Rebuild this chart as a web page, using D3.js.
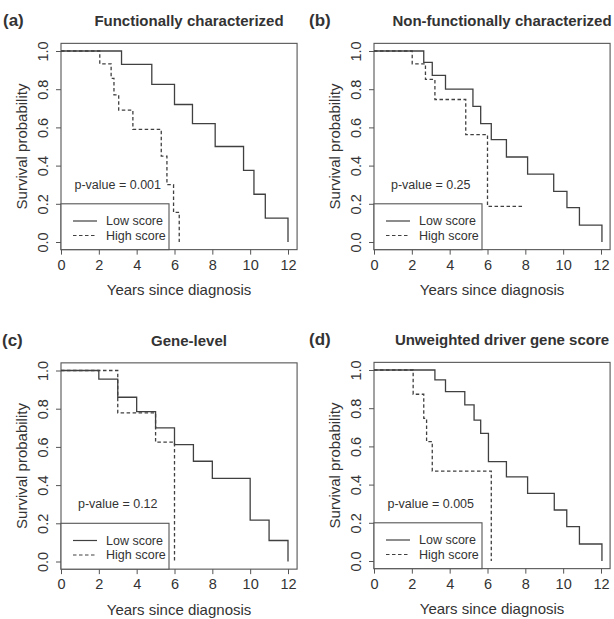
<!DOCTYPE html>
<html>
<head>
<meta charset="utf-8">
<script src="https://cdn.jsdelivr.net/npm/d3@7"></script>
<style>
  body { margin: 0; background: #fff; }
  text { font-family: "Liberation Sans", Arial, sans-serif; fill: #333; }
</style>
</head>
<body>
<div id="chart"></div>
<script>
// panel text
const panelLabels = ["(a)", "(b)", "(c)", "(d)"];
const panelTitles = ["Functionally characterized", "Non-functionally characterized", "Gene-level", "Unweighted driver gene score"];
const pValues = ["0.001", "0.25", "0.12", "0.005"];
const seriesNames = ["Low score", "High score"];
const xTicks = [0, 2, 4, 6, 8, 10, 12];
const yTicks = [0, 0.2, 0.4, 0.6, 0.8, 1.0];

// Kaplan-Meier steps (time in years, survival)
const lowTimesA = [0, 3.2, 4.8, 6.0, 6.95, 8.15, 9.65, 10.2, 10.8, 12.0];
const lowSurvA  = [1, 0.93, 0.825, 0.72, 0.62, 0.5, 0.375, 0.25, 0.125, 0];
const highTimesA = [0, 2.05, 2.65, 2.8, 3.05, 3.8, 5.3, 5.6, 5.95, 6.25];
const highSurvA  = [1, 0.933, 0.857, 0.77, 0.69, 0.59, 0.45, 0.30, 0.155, 0];

const lowTimesB = [0, 2.63, 3.08, 3.78, 5.23, 5.64, 6.2, 7.0, 8.12, 9.5, 10.2, 10.86, 12.05];
const lowSurvB  = [1, 0.94, 0.872, 0.80, 0.71, 0.62, 0.536, 0.445, 0.355, 0.265, 0.18, 0.088, 0];
const highTimesB = [0, 2.02, 2.72, 3.22, 4.85, 6.0, 7.95];
const highSurvB  = [1, 0.933, 0.851, 0.746, 0.562, 0.186, 0.186];

const lowTimesC = [0, 2.0, 3.0, 4.0, 5.0, 6.0, 7.0, 8.0, 10.0, 11.0, 12.0];
const lowSurvC  = [1, 0.955, 0.86, 0.785, 0.70, 0.612, 0.525, 0.435, 0.217, 0.11, 0];
const highTimesC = [0, 3.0, 5.0, 6.0];
const highSurvC  = [1, 0.778, 0.625, 0];

const lowTimesD = [0, 3.22, 3.78, 4.8, 5.29, 5.64, 6.05, 7.0, 8.12, 9.53, 10.19, 10.86, 12.05];
const lowSurvD  = [1, 0.948, 0.887, 0.817, 0.738, 0.668, 0.52, 0.44, 0.354, 0.267, 0.18, 0.089, 0];
const highTimesD = [0, 2.07, 2.63, 2.78, 3.08, 6.2];
const highSurvD  = [1, 0.873, 0.747, 0.625, 0.471, 0];

const lowTimes = [lowTimesA, lowTimesB, lowTimesC, lowTimesD];
const lowSurv = [lowSurvA, lowSurvB, lowSurvC, lowSurvD];
const highTimes = [highTimesA, highTimesB, highTimesC, highTimesD];
const highSurv = [highSurvA, highSurvB, highSurvC, highSurvD];

const width = 614, height = 619;
// where each panel's (0,0) sits on the page
const layout = [
  { x0: 61,  y0: 242,   labelX: 3 },
  { x0: 374, y0: 242,   labelX: 309 },
  { x0: 61,  y0: 561.5, labelX: 2 },
  { x0: 374, y0: 561,   labelX: 309 }
];
const lineColor = "#404040", boxColor = "#555";
const dash = "3.5,2.5";

const svg = d3.select("#chart").append("svg")
  .attr("width", width).attr("height", height)
  .attr("viewBox", `0 0 ${width} ${height}`);

panelLabels.forEach((lab, i) => {
  const { x0, y0, labelX } = layout[i];
  const x = d3.scaleLinear().domain([0, 12]).range([x0, x0 + 227]);
  const y = d3.scaleLinear().domain([0, 1]).range([y0, y0 - 191]);
  const g = svg.append("g");

  // box (R style: no padding on the left of x, 4% elsewhere)
  g.append("rect")
    .attr("x", x(0)).attr("y", y(1.04))
    .attr("width", x(12.48) - x(0)).attr("height", y(-0.04) - y(1.04))
    .attr("fill", "none").attr("stroke", boxColor).attr("stroke-width", 1.1);

  const xAxis = g.append("g")
    .attr("transform", `translate(0,${y(-0.04)})`)
    .call(d3.axisBottom(x).tickValues(xTicks).tickSize(5).tickPadding(5));
  xAxis.select(".domain").remove();
  xAxis.selectAll("line").attr("stroke", boxColor);
  xAxis.selectAll("text").attr("font-size", 14.5).attr("font-family", null).attr("fill", "#333");

  const yAxis = g.append("g")
    .attr("transform", `translate(${x(0)},0)`)
    .call(d3.axisLeft(y).tickValues(yTicks).tickFormat(d3.format(".1f")).tickSize(5));
  yAxis.select(".domain").remove();
  yAxis.selectAll("line").attr("stroke", boxColor);
  yAxis.selectAll("text")
    .attr("font-size", 14.5).attr("font-family", null).attr("fill", "#333")
    .attr("x", 0).attr("y", -13).attr("dy", null)
    .attr("text-anchor", "middle")
    .attr("transform", "rotate(-90)");

  // labels
  g.append("text").attr("x", labelX).attr("y", y0 - 216)
    .attr("font-size", 17).attr("font-weight", "bold").text(lab);
  g.append("text").attr("x", x0 + 128).attr("y", y0 - 216)
    .attr("text-anchor", "middle").attr("font-size", 15).attr("font-weight", "bold")
    .text(panelTitles[i]);
  g.append("text").attr("x", (x(0) + x(12.48)) / 2).attr("y", y0 + 53)
    .attr("text-anchor", "middle").attr("font-size", 15)
    .text("Years since diagnosis");
  g.append("text")
    .attr("transform", `translate(${x0 - 34},${y(0.5)}) rotate(-90)`)
    .attr("text-anchor", "middle").attr("font-size", 15)
    .text("Survival probability");
  g.append("text").attr("x", x(3)).attr("y", y(0.3))
    .attr("text-anchor", "middle").attr("dominant-baseline", "central")
    .attr("font-size", 12.5)
    .text(`p-value = ${pValues[i]}`);

  // survival curves
  const line = d3.line().x(d => x(d[0])).y(d => y(d[1])).curve(d3.curveStepAfter);
  const lowPts = lowTimes[i].map((t, k) => [t, lowSurv[i][k]]);
  const highPts = highTimes[i].map((t, k) => [t, highSurv[i][k]]);
  g.append("path").attr("d", line(lowPts))
    .attr("fill", "none").attr("stroke", lineColor).attr("stroke-width", 1.3);
  g.append("path").attr("d", line(highPts))
    .attr("fill", "none").attr("stroke", lineColor).attr("stroke-width", 1.3)
    .attr("stroke-dasharray", dash);

  // legend, bottom-left
  const lg = g.append("g");
  lg.append("rect")
    .attr("x", x(0)).attr("y", y(0.2))
    .attr("width", 108).attr("height", y(-0.04) - y(0.2))
    .attr("fill", "#fff").attr("stroke", boxColor).attr("stroke-width", 1.1);
  seriesNames.forEach((name, k) => {
    const ly = y0 - 21 + k * 14.5;
    lg.append("line")
      .attr("x1", x0 + 12).attr("x2", x0 + 36).attr("y1", ly).attr("y2", ly)
      .attr("stroke", lineColor).attr("stroke-width", 1.2)
      .attr("stroke-dasharray", k === 1 ? dash : null);
    lg.append("text").attr("x", x0 + 45).attr("y", ly)
      .attr("dominant-baseline", "central").attr("font-size", 12.5)
      .text(name);
  });
});
</script>
</body>
</html>
